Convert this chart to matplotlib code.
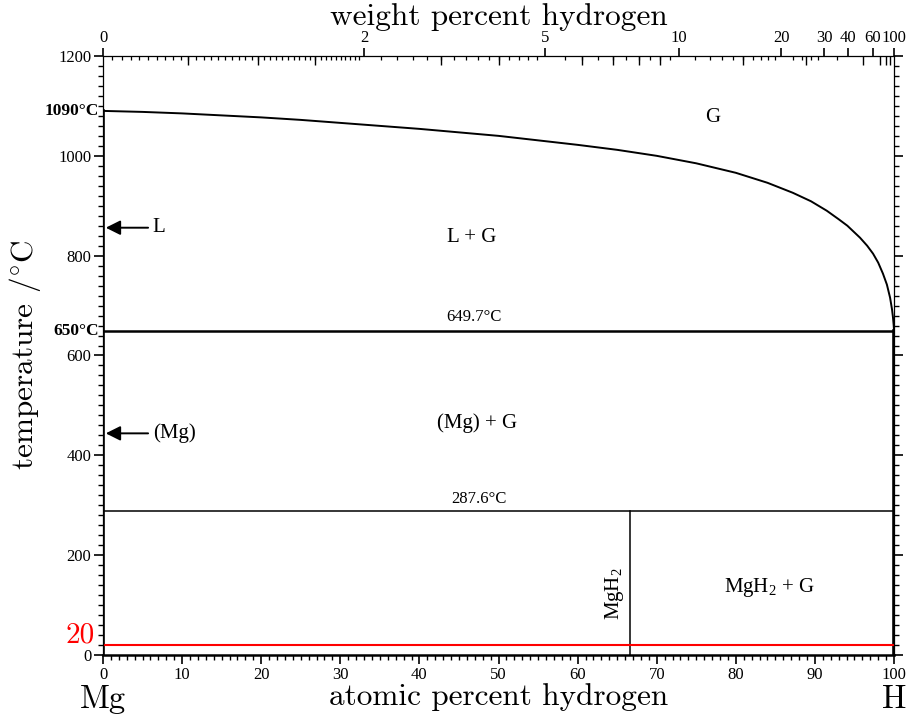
import numpy as np
import matplotlib
matplotlib.use("Agg")
import matplotlib.pyplot as plt
from matplotlib.ticker import FixedLocator, NullFormatter, MultipleLocator

# liquidus (L + G / G boundary): at.% H vs temperature
liq_at = [0, 5, 10, 20, 25, 30, 35, 40, 45, 50, 55, 60, 65, 70, 75, 80, 84, 87.2, 89.5,
          91.5, 93, 94.1, 95.7, 96.6, 97.35, 98, 98.6, 99.1, 99.5, 99.75, 99.87, 99.95, 100]
liq_T = [1090, 1088, 1085, 1077, 1072, 1066, 1060, 1054, 1047, 1040, 1031, 1022, 1012, 1000,
         985, 966, 946, 926, 909, 890, 873, 860, 836, 820, 804, 786, 764, 742, 716, 692, 676, 662, 650]

T_melt_mg = 1090
T_mono = 649.7
T_mgh2 = 287.6
T_room = 20
at_mgh2 = 66.67

# top axis ticks (weight percent hydrogen)
wt_major = [0, 2, 5, 10, 20, 30, 40, 60, 100]
wt_long = [0.5, 1, 1.5, 3, 4, 6, 7, 8, 9, 15, 25, 50, 70, 80, 90]
wt_small = np.concatenate([np.arange(0, 2, 0.05), np.arange(2, 5, 0.2),
                           np.arange(5, 10, 0.5), np.arange(10, 20, 1),
                           np.arange(20, 30, 2), [35]])

M_H = 1.008
M_MG = 24.305


def wt_to_at(w):
    w = np.asarray(w, dtype=float)
    nh = w / M_H
    nmg = (100 - w) / M_MG
    return 100 * nh / (nh + nmg)


plt.rcParams["font.family"] = ["Liberation Serif", "DejaVu Serif"]
plt.rcParams["mathtext.fontset"] = "cm"

fig, ax = plt.subplots(figsize=(9.23, 7.17), dpi=100)
fig.subplots_adjust(left=0.1116, right=0.9686, bottom=0.0865, top=0.9219)

ax.set_xlim(0, 100)
ax.set_ylim(0, 1200)

# phase boundaries
ax.plot(liq_at, liq_T, color="black", lw=1.4)
ax.plot([0, 0], [0, T_melt_mg], color="black", lw=2.6)
ax.plot([100, 100], [0, T_mono], color="black", lw=2.6)
ax.plot([0, 100], [T_mono, T_mono], color="black", lw=1.8)
ax.plot([0, 100], [T_mgh2, T_mgh2], color="black", lw=1.1)
ax.plot([at_mgh2, at_mgh2], [0, T_mgh2], color="black", lw=1.1)
ax.plot([0, 100], [T_room, T_room], color="red", lw=1.5)

# spines and ticks
for s in ["left", "right", "top"]:
    ax.spines[s].set_linewidth(0.9)
ax.spines["bottom"].set_linewidth(1.8)

ax.xaxis.set_major_locator(MultipleLocator(10))
ax.xaxis.set_minor_locator(MultipleLocator(1))
ax.yaxis.set_major_locator(MultipleLocator(200))
ax.yaxis.set_minor_locator(MultipleLocator(20))
ax.tick_params(axis="both", which="major", direction="out", length=6.5, width=1.2, labelsize=12, pad=2)
ax.tick_params(axis="both", which="minor", direction="out", length=3.5, width=1.0)
ax.tick_params(axis="y", which="both", right=True)
ax.tick_params(axis="x", which="both", top=False)

# top axis: weight percent
axt = ax.twiny()
axt.set_xlim(0, 100)
axt.xaxis.set_major_locator(FixedLocator(wt_to_at(wt_major)))
axt.set_xticklabels([str(w) for w in wt_major])
axt.xaxis.set_minor_locator(FixedLocator(wt_to_at(wt_small)))
axt.tick_params(axis="x", which="major", direction="out", length=6, width=1.2, labelsize=12, pad=1)
axt.tick_params(axis="x", which="minor", direction="in", length=3, width=0.9)
for s in axt.spines.values():
    s.set_visible(False)

axl = ax.twiny()
axl.set_xlim(0, 100)
axl.xaxis.set_major_locator(FixedLocator(wt_to_at(wt_long)))
axl.xaxis.set_major_formatter(NullFormatter())
axl.xaxis.set_minor_locator(FixedLocator([]))
axl.tick_params(axis="x", which="major", direction="in", length=6.5, width=1.0)
for s in axl.spines.values():
    s.set_visible(False)

# axis titles
cm = "cmr10"
axt.set_xlabel("weight percent hydrogen", family=cm, fontsize=22.5, labelpad=4)
ax.set_xlabel("atomic percent hydrogen", family=cm, fontsize=22.5, labelpad=0)
ax.set_ylabel(r"temperature /$^{\circ}$C", family=cm, fontsize=22.5, labelpad=11)
ax.text(0, -0.074, "Mg", transform=ax.get_xaxis_transform(), family=cm, fontsize=23.5,
        ha="center", va="center", clip_on=False)
ax.text(100, -0.074, "H", transform=ax.get_xaxis_transform(), family=cm, fontsize=23.5,
        ha="center", va="center", clip_on=False)
ax.text(-1.0, T_room + 19, "20", color="red", family=cm, fontsize=21, ha="right", va="center", clip_on=False)

# special temperatures
ax.text(-0.5, T_melt_mg, "1090°C", fontsize=12.5, fontweight="bold", ha="right", va="center", clip_on=False)
ax.text(-0.5, 650, "650°C", fontsize=12.5, fontweight="bold", ha="right", va="center", clip_on=False)

# region labels
ax.text(77.1, 1076, "G", fontsize=15, ha="center", va="center")
ax.text(46.6, 836, "L + G", fontsize=15, ha="center", va="center")
ax.text(46.9, T_mono + 12, "649.7°C", fontsize=12, ha="center", va="bottom")
ax.text(47.3, 464, "(Mg) + G", fontsize=15, ha="center", va="center")
ax.text(47.5, T_mgh2 + 8, "287.6°C", fontsize=12, ha="center", va="bottom")
ax.text(64.7, 122, r"$\mathregular{MgH_2}$", fontsize=15, rotation=90, ha="center", va="center")
ax.text(84.3, 136, r"$\mathregular{MgH_2}$ + G", fontsize=15, ha="center", va="center")

# arrows to the pure-Mg phases
arrow = dict(arrowstyle="-|>", lw=1.4, color="black", mutation_scale=22, shrinkA=0, shrinkB=0)
ax.annotate("", xy=(0.35, 856), xytext=(5.7, 856), arrowprops=arrow)
ax.text(6.3, 856, "L", fontsize=15, ha="left", va="center")
ax.annotate("", xy=(0.35, 444), xytext=(5.7, 444), arrowprops=arrow)
ax.text(6.3, 444, "(Mg)", fontsize=15, ha="left", va="center")

fig.savefig("out.png", dpi=100)
